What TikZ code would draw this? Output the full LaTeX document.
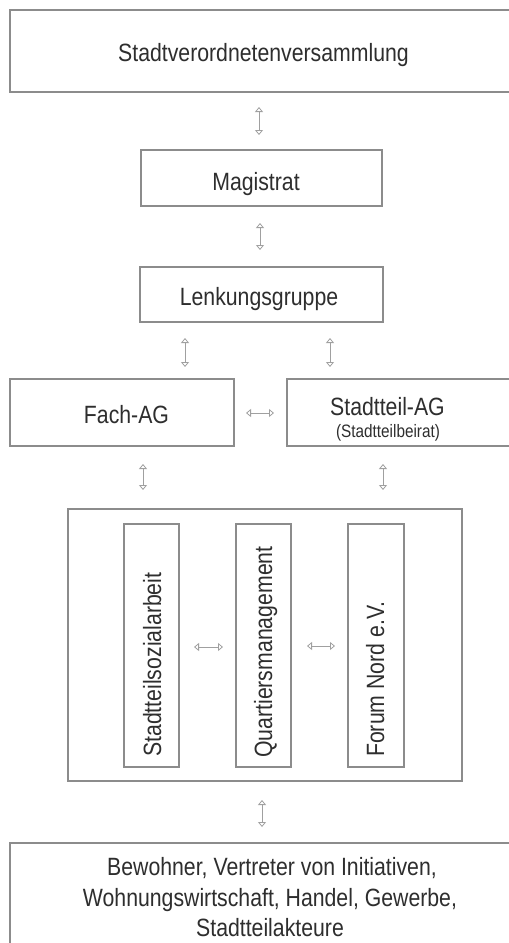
\documentclass[tikz,border=0pt]{standalone}
\usepackage{fontspec}
\setmainfont{Liberation Sans}[FakeStretch=0.85]
\usetikzlibrary{arrows.meta}
\definecolor{boxline}{HTML}{8C8C8C}
\definecolor{arrline}{HTML}{A0A0A0}
\definecolor{txt}{HTML}{2E2E2E}
\tikzset{
  box/.style={draw=boxline, line width=1.4pt},
  lbl/.style={inner sep=0pt, anchor=base, text=txt, font=\fontsize{25}{29}\selectfont},
  smalllbl/.style={inner sep=0pt, anchor=base, text=txt, font=\fontsize{18}{21}\selectfont},
  vlbl/.style={inner sep=0pt, anchor=base west, rotate=90, text=txt, font=\fontsize{25}{29}\selectfont},
  biarrow/.style={draw=arrline, line width=0.8pt,
    {Triangle[open,length=5pt,width=8pt]}-{Triangle[open,length=5pt,width=8pt]}}
}
\begin{document}
\begin{tikzpicture}[x=1pt,y=-1pt]
\useasboundingbox (0,0) rectangle (509,943);
\fill[white] (0,0) rectangle (509,943);
\clip (0,0) rectangle (509,943);

% boxes
\draw[box] (10,10) rectangle (517,92);
\node[lbl] (t1) at (263.5,61) {Stadtverordnetenversammlung};

\draw[box] (141,150) rectangle (382,206);
\node[lbl] (t2) at (256,190) {Magistrat};

\draw[box] (140,267) rectangle (383,322);
\node[lbl] (t3) at (259,305) {Lenkungsgruppe};

\draw[box] (10,379) rectangle (234,446);
\node[lbl] (t4) at (126.5,423) {Fach-AG};

\draw[box] (287,379) rectangle (525,446);
\node[lbl] (t5) at (387.5,415) {Stadtteil-AG};
\node[smalllbl] (t5b) at (388,437) {(Stadtteilbeirat)};

\draw[box] (68,509) rectangle (462,781);
\draw[box] (124,524) rectangle (179,767);
\draw[box] (236,524) rectangle (291,767);
\draw[box] (348,524) rectangle (404,767);
\node[vlbl] (v1) at (161,757) {Stadtteilsozialarbeit};
\node[vlbl] (v2) at (272,758) {Quartiersmanagement};
\node[vlbl] (v3) at (384,757) {Forum Nord e.V.};

\draw[box] (10,843) rectangle (530,960);
\node[lbl] (b1) at (272,875) {Bewohner, Vertreter von Initiativen,};
\node[lbl] (b2) at (270,906) {Wohnungswirtschaft, Handel, Gewerbe,};
\node[lbl] (b3) at (270,936) {Stadtteilakteure};

% arrow end points
\coordinate (a1s) at (259,107); \coordinate (a1e) at (259,135);
\coordinate (a2s) at (260,223); \coordinate (a2e) at (260,250);
\coordinate (a3s) at (185,338); \coordinate (a3e) at (185,367);
\coordinate (a4s) at (330,338); \coordinate (a4e) at (330,367);
\coordinate (h1s) at (246,413); \coordinate (h1e) at (274,413);
\coordinate (a5s) at (143,464); \coordinate (a5e) at (143,490);
\coordinate (a6s) at (383,464); \coordinate (a6e) at (383,490);
\coordinate (h2s) at (194,647); \coordinate (h2e) at (223,647);
\coordinate (h3s) at (307,646); \coordinate (h3e) at (335,646);
\coordinate (a7s) at (262,800); \coordinate (a7e) at (262,827);

\foreach \s/\e in {a1s/a1e,a2s/a2e,a3s/a3e,a4s/a4e,h1s/h1e,a5s/a5e,a6s/a6e,h2s/h2e,h3s/h3e,a7s/a7e}
  \draw[biarrow] (\s) -- (\e);
\end{tikzpicture}
\end{document}
